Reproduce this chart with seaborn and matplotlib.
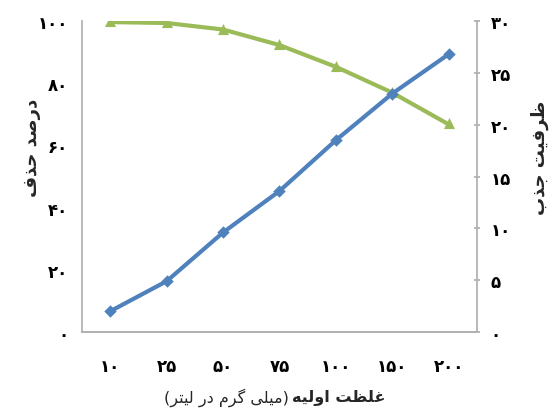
import pandas as pd
import seaborn as sns
from matplotlib import pyplot as plt

# data
conc = ['10', '25', '50', '75', '100', '150', '200']          # initial concentration (mg/L)
removal = [99.7, 99.4, 97.3, 92.3, 85.3, 77.0, 66.8]          # removal percent (left axis)
capacity = [2.0, 4.9, 9.6, 13.6, 18.5, 23.0, 26.8]            # adsorption capacity (right axis)
left_ticks = [0, 20, 40, 60, 80, 100]
right_ticks = [0, 5, 10, 15, 20, 25, 30]

ylabel_left = 'درصد حذف'
ylabel_right = 'ظرفیت جذب'
xlabel_main = 'غلظت اولیه'
xlabel_unit = '(میلی گرم در لیتر)'

# --- very small Persian shaper (matplotlib does no shaping / bidi) ---
FORMS = {
    'ا': ('\uFE8D', '\uFE8E', None, None),
    'ب': ('\uFE8F', '\uFE90', '\uFE91', '\uFE92'),
    'ت': ('\uFE95', '\uFE96', '\uFE97', '\uFE98'),
    'ج': ('\uFE9D', '\uFE9E', '\uFE9F', '\uFEA0'),
    'ح': ('\uFEA1', '\uFEA2', '\uFEA3', '\uFEA4'),
    'د': ('\uFEA9', '\uFEAA', None, None),
    'ذ': ('\uFEAB', '\uFEAC', None, None),
    'ر': ('\uFEAD', '\uFEAE', None, None),
    'ص': ('\uFEB9', '\uFEBA', '\uFEBB', '\uFEBC'),
    'ظ': ('\uFEC5', '\uFEC6', '\uFEC7', '\uFEC8'),
    'غ': ('\uFECD', '\uFECE', '\uFECF', '\uFED0'),
    'ف': ('\uFED1', '\uFED2', '\uFED3', '\uFED4'),
    'ل': ('\uFEDD', '\uFEDE', '\uFEDF', '\uFEE0'),
    'م': ('\uFEE1', '\uFEE2', '\uFEE3', '\uFEE4'),
    'ه': ('\uFEE9', '\uFEEA', '\uFEEB', '\uFEEC'),
    'و': ('\uFEED', '\uFEEE', None, None),
    '\u06CC': ('\uFBFC', '\uFBFD', '\uFBFE', '\uFBFF'),
    'ي': ('\uFBFC', '\uFBFD', '\uFBFE', '\uFBFF'),
    'گ': ('\uFB92', '\uFB93', '\uFB94', '\uFB95'),
}


def fa(s):
    out = []
    for i, c in enumerate(s):
        if c not in FORMS:
            out.append(c)
            continue
        prev = s[i - 1] if i > 0 else ''
        nxt = s[i + 1] if i < len(s) - 1 else ''
        jp = prev in FORMS and FORMS[prev][2] is not None
        jn = nxt in FORMS and FORMS[c][2] is not None
        f = FORMS[c]
        if jp and jn:
            out.append(f[3])
        elif jp:
            out.append(f[1])
        elif jn:
            out.append(f[2])
        else:
            out.append(f[0])
    vis = ''.join(reversed(out))
    return vis.translate(str.maketrans('()', ')('))


def fa_num(v):
    return str(v).translate(str.maketrans('0123456789', '۰۱۲۳۴۵۶۷۸۹'))


df = pd.DataFrame({'conc': conc, 'removal': removal, 'capacity': capacity})

sns.set_theme(style='white')
plt.rcParams['font.family'] = ['DejaVu Sans']
plt.rcParams['font.weight'] = 'bold'

fig = plt.figure(figsize=(5.55, 4.1), dpi=100)
ax = fig.add_axes([0.148, 0.188, 0.711, 0.758])
ax2 = ax.twinx()

sns.pointplot(data=df, x='conc', y='removal', ax=ax, color='#9BBB59',
              markers='^', linestyles='-', markersize=5, linewidth=3)
sns.pointplot(data=df, x='conc', y='capacity', ax=ax2, color='#4F81BD',
              markers='D', linestyles='-', markersize=4, linewidth=3)

ax.set_ylim(0, 100)
ax2.set_ylim(0, 30)
ax.set_xlim(-0.5, len(conc) - 0.5)

ax.set_yticks(left_ticks)
ax.set_yticklabels([fa_num(t) for t in left_ticks], fontsize=12, fontweight='bold')
ax2.set_yticks(right_ticks)
ax2.set_yticklabels([fa_num(t) for t in right_ticks], fontsize=12, fontweight='bold')
ax.set_xticks(range(len(conc)))
ax.set_xticklabels([fa_num(c) for c in conc], fontsize=12, fontweight='bold')

for a in (ax, ax2):
    a.spines['top'].set_visible(False)
    for side in ('bottom', 'left', 'right'):
        a.spines[side].set_color('#b0b0b0')
    a.set_xlabel('')
    a.set_ylabel('')
ax.spines['right'].set_visible(False)
ax2.spines['left'].set_visible(False)

ax.tick_params(axis='y', length=0, pad=10, colors='black')
ax.tick_params(axis='x', length=0, pad=18, colors='black')
ax2.tick_params(axis='y', length=4, direction='inout', pad=8, colors='black')
ax2.tick_params(axis='y', color='#b0b0b0')

fig.text(0.058, 0.64, fa(ylabel_left), rotation=90, ha='center', va='center',
         fontsize=13, fontweight='bold')
fig.text(0.973, 0.615, fa(ylabel_right), rotation=90, ha='center', va='center',
         fontsize=13, fontweight='bold')
fig.text(0.527, 0.032, fa(xlabel_main), ha='left', va='center',
         fontsize=11.5, fontweight='bold')
fig.text(0.521, 0.030, fa(xlabel_unit), ha='right', va='center',
         fontsize=11.5, fontweight='normal')

fig.savefig('out.png', dpi=100)
